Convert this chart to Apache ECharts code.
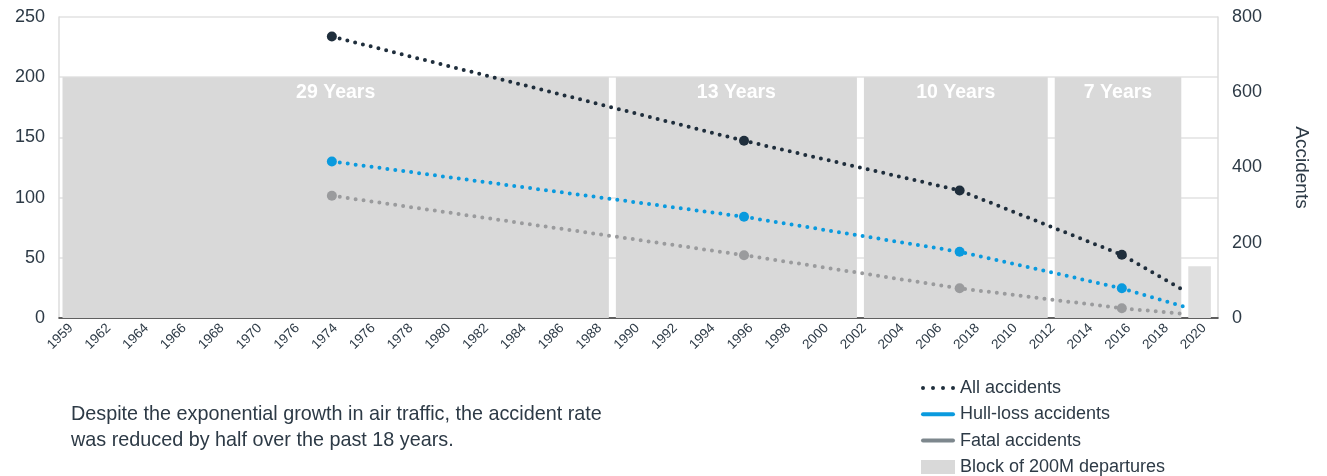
<!DOCTYPE html>
<html>
<head>
<meta charset="utf-8">
<script src="https://cdn.jsdelivr.net/npm/echarts@6/dist/echarts.min.js"></script>
<style>
  html, body { margin: 0; padding: 0; background: #fff; }
  #chart { width: 1327px; height: 476px; }
</style>
</head>
<body>
<div id="chart"></div>
<script>
// x-axis tick labels as printed on the original
const xLabels = ['1959', '1962', '1964', '1966', '1968', '1970', '1976', '1974', '1976', '1978', '1980',
  '1982', '1984', '1986', '1988', '1990', '1992', '1994', '1996', '1998', '2000', '2002',
  '2004', '2006', '2018', '2010', '2012', '2014', '2016', '2018', '2020'];

// accident series (right axis), placed near block mid-points in years
const pointYears = [1973.3, 1994.9, 2006.2, 2014.7, 2018.1];
const allAccidents = [748, 471, 339, 168, 69];
const hullLoss = [416, 269, 176, 79, 28];
const fatal = [325, 167, 79, 26, 10];

// blocks of 200M departures (left axis)
const blockStart = [1959, 1988, 2001, 2011, 2018];
const blockEnd = [1988, 2001, 2011, 2018, 2019.55];
const blockHeight = [200, 200, 200, 200, 43];
const blockLabels = ['29 Years', '13 Years', '10 Years', '7 Years', ''];

const FONT = '"Liberation Sans", Arial, sans-serif';
const TEXT = '#2d3a46';
const DARK = '#1f2e3c';
const BLUE = '#0a9ade';
const GREY = '#9a9b9d';

const chart = echarts.init(document.getElementById('chart'));

const lineData = vals => vals.map((v, i) => {
  const item = { value: [pointYears[i], v] };
  if (i === vals.length - 1) item.symbol = 'none';
  return item;
});

const lineSeries = (name, vals, color) => ({
  name,
  type: 'line',
  xAxisIndex: 0,
  yAxisIndex: 1,
  data: lineData(vals),
  symbol: 'circle',
  symbolSize: 10,
  showSymbol: true,
  z: 5,
  itemStyle: { color },
  lineStyle: { color, width: 4, type: [0, 8], cap: 'round' },
  emphasis: { disabled: true },
  animation: false
});

const blockData = blockStart.map((s, i) => [s, blockEnd[i], blockHeight[i], i]);

chart.setOption({
  animation: false,
  textStyle: { fontFamily: FONT },
  title: {
    text: 'Despite the exponential growth in air traffic, the accident rate\nwas reduced by half over the past 18 years.',
    left: 71,
    top: 402,
    padding: 0,
    textStyle: { fontFamily: FONT, fontSize: 19.8, fontWeight: 'normal', color: TEXT, lineHeight: 26 }
  },
  legend: {
    orient: 'vertical',
    left: 921,
    top: 379,
    padding: 0,
    itemWidth: 34,
    itemHeight: 14,
    itemGap: 8.3,
    symbolKeepAspect: true,
    selectedMode: false,
    textStyle: { fontFamily: FONT, fontSize: 18, color: TEXT },
    data: [
      { name: 'All accidents', icon: 'path://M0,2a2,2 0 1,0 4,0a2,2 0 1,0 -4,0Z M10,2a2,2 0 1,0 4,0a2,2 0 1,0 -4,0Z M20,2a2,2 0 1,0 4,0a2,2 0 1,0 -4,0Z M30,2a2,2 0 1,0 4,0a2,2 0 1,0 -4,0Z', itemStyle: { color: DARK, borderWidth: 0 } },
      { name: 'Hull-loss accidents', icon: 'path://M2,0h30a2,2 0 0,1 0,4h-30a2,2 0 0,1 0,-4Z', itemStyle: { color: BLUE, borderWidth: 0 } },
      { name: 'Fatal accidents', icon: 'path://M2,0h30a2,2 0 0,1 0,4h-30a2,2 0 0,1 0,-4Z', itemStyle: { color: '#7d878d', borderWidth: 0 } },
      { name: 'Block of 200M departures', icon: 'rect', itemStyle: { color: '#d9d9d9', borderWidth: 0 } }
    ]
  },
  grid: [
    { left: 59, right: 109, top: 17, bottom: 158 },
    { left: 52, right: 104, top: 17, bottom: 158 }
  ],
  xAxis: [
    {
      type: 'value',
      gridIndex: 0,
      min: 1959,
      max: 2019.74,
      axisLine: { show: true, lineStyle: { color: '#333', width: 1.5 } },
      axisTick: { show: false },
      axisLabel: { show: false },
      splitLine: { show: false }
    },
    {
      type: 'category',
      gridIndex: 1,
      data: xLabels,
      boundaryGap: true,
      axisLine: { show: false },
      axisTick: { show: false },
      axisLabel: { rotate: 45, interval: 0, fontSize: 13.5, color: TEXT, margin: 8, fontFamily: FONT },
      splitLine: { show: false }
    }
  ],
  yAxis: [
    {
      type: 'value',
      gridIndex: 0,
      min: 0,
      max: 250,
      interval: 50,
      axisLine: { show: true, lineStyle: { color: '#dcdcdc', width: 1.5 } },
      axisTick: { show: false },
      axisLabel: { fontSize: 18, color: TEXT, margin: 14, fontFamily: FONT },
      splitLine: { lineStyle: { color: '#e2e2e2', width: 1.5 } }
    },
    {
      type: 'value',
      gridIndex: 0,
      position: 'right',
      min: 0,
      max: 800,
      interval: 200,
      name: 'Accidents',
      nameLocation: 'middle',
      nameRotate: -90,
      nameGap: 74,
      nameTextStyle: { fontSize: 19, color: TEXT, fontFamily: FONT },
      axisLine: { show: true, lineStyle: { color: '#dcdcdc', width: 1.5 } },
      axisTick: { show: false },
      axisLabel: { fontSize: 18, color: TEXT, margin: 14, fontFamily: FONT },
      splitLine: { show: false }
    },
    { type: 'value', gridIndex: 1, show: false, min: 0, max: 1 }
  ],
  series: [
    {
      name: 'Block of 200M departures',
      type: 'custom',
      xAxisIndex: 0,
      yAxisIndex: 0,
      z: 1,
      silent: true,
      encode: { x: [0, 1], y: 2 },
      data: blockData,
      itemStyle: { color: '#d9d9d9' },
      renderItem: (params, api) => {
        const i = api.value(3);
        const p0 = api.coord([api.value(0), api.value(2)]);
        const p1 = api.coord([api.value(1), 0]);
        const inset = 3.5;
        const children = [{
          type: 'rect',
          shape: { x: p0[0] + inset, y: p0[1], width: p1[0] - p0[0] - inset * 2, height: p1[1] - p0[1] },
          style: { fill: i === 4 ? '#dfdfdf' : '#d9d9d9' }
        }];
        if (blockLabels[i]) {
          children.push({
            type: 'text',
            style: {
              text: blockLabels[i],
              x: (p0[0] + p1[0]) / 2,
              y: p0[1] + 15,
              align: 'center',
              verticalAlign: 'middle',
              fill: '#fff',
              font: 'bold 19.5px ' + FONT
            }
          });
        }
        return { type: 'group', children };
      }
    },
    lineSeries('All accidents', allAccidents, DARK),
    lineSeries('Hull-loss accidents', hullLoss, BLUE),
    lineSeries('Fatal accidents', fatal, GREY)
  ]
});
</script>
</body>
</html>
